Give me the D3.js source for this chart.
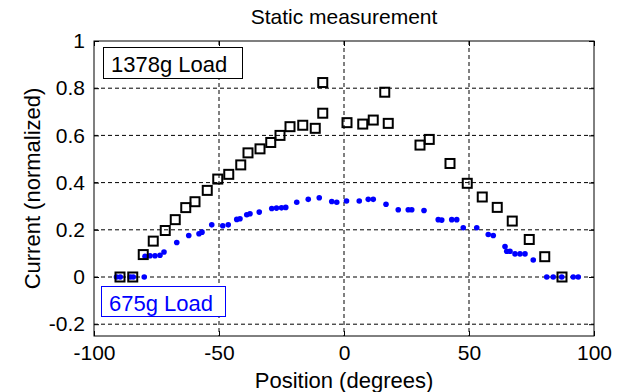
<!DOCTYPE html>
<html>
<head>
<meta charset="utf-8">
<script src="https://cdn.jsdelivr.net/npm/d3@7"></script>
<style>
  body { margin: 0; background: #fff; }
  svg { display: block; font-family: "Liberation Sans", Arial, sans-serif; }
</style>
</head>
<body>
<div class="chart"></div>
<script>
// 1378g load (squares)
var heavyX = [-89.6, -84.5, -80.3, -76.3, -71.5, -67.5, -63.3, -59.6, -54.7, -50.5, -46.1, -41.3, -38.4, -33.6, -29.3, -25.6, -21.6, -16.5, -11.5, -8.5, -8.5, 1.2, 7.5, 11.7, 16.3, 17.7, 30.4, 34.1, 42.4, 49.3, 55.3, 61.3, 67.3, 74.1, 80.3, 87.2];
var heavyY = [0, 0, 0.095, 0.152, 0.197, 0.243, 0.294, 0.319, 0.367, 0.415, 0.435, 0.475, 0.526, 0.543, 0.570, 0.600, 0.637, 0.643, 0.630, 0.694, 0.824, 0.654, 0.648, 0.665, 0.783, 0.651, 0.559, 0.583, 0.481, 0.397, 0.339, 0.295, 0.237, 0.159, 0.086, 0];

// 675g load (blue dots)
var lightX = [-91, -89.5, -85.5, -84.3, -79.9, -79.6, -77.6, -75.6, -73.6, -72, -66.9, -62.1, -58, -56.8, -52.9, -48.5, -46.3, -42.9, -41.6, -38.9, -37.6, -33.9, -28.9, -27, -25, -23.3, -18.9, -14.3, -9.9, -4.9, -2.9, 1.0, 6.1, 9.7, 11.7, 16.8, 21.7, 25.7, 27.1, 32, 37.7, 39.1, 43.1, 45.1, 47.7, 53.1, 57.7, 59.7, 64.4, 65.1, 66.4, 68.4, 70.4, 72.4, 75.7, 81.1, 83.7, 87.1, 91.7, 93.7];
var lightY = [0, 0, 0, 0, 0, 0.088, 0.09, 0.09, 0.092, 0.106, 0.146, 0.176, 0.183, 0.19, 0.221, 0.217, 0.221, 0.244, 0.247, 0.264, 0.268, 0.275, 0.29, 0.292, 0.293, 0.295, 0.317, 0.329, 0.336, 0.32, 0.317, 0.322, 0.322, 0.329, 0.329, 0.308, 0.285, 0.285, 0.285, 0.282, 0.243, 0.241, 0.243, 0.243, 0.209, 0.209, 0.18, 0.176, 0.129, 0.109, 0.109, 0.098, 0.098, 0.098, 0.072, 0, 0, 0, 0, 0];

var xTicks = [-100, -50, 0, 50, 100];
var yTicks = [-0.2, 0, 0.2, 0.4, 0.6, 0.8, 1];

var W = 621, H = 392;
var mLeft = 94, mRight = 594, mTop = 41, mBottom = 336;

var svg = d3.select('.chart')
    .append("svg")
    .attr("width", W)
    .attr("height", H);

var x = d3.scaleLinear().domain([-100, 100]).range([mLeft, mRight]);
var y = d3.scaleLinear().domain([-0.25, 1]).range([mBottom, mTop]);

// plain hyphen minus like matlab
var fmt = function (d) { return String(+d.toFixed(1)); };

// grid
svg.append("g")
    .selectAll("line")
    .data(xTicks.slice(1, -1))
    .enter().append("line")
    .attr("x1", function (d) { return x(d); })
    .attr("x2", function (d) { return x(d); })
    .attr("y1", mTop).attr("y2", mBottom)
    .attr("stroke", "#000").attr("stroke-width", 1)
    .attr("stroke-dasharray", "4,3");

svg.append("g")
    .selectAll("line")
    .data(yTicks.filter(function (d) { return d < 1; }))
    .enter().append("line")
    .attr("y1", function (d) { return y(d); })
    .attr("y2", function (d) { return y(d); })
    .attr("x1", mLeft).attr("x2", mRight)
    .attr("stroke", "#000").attr("stroke-width", 1)
    .attr("stroke-dasharray", "4,3");

// axes (ticks inward, matlab style)
svg.append("g")
    .attr("transform", "translate(0," + mBottom + ")")
    .call(d3.axisBottom(x).tickValues(xTicks).tickSizeInner(-5).tickSizeOuter(0).tickPadding(9).tickFormat(fmt))
    .call(function (g) { g.select(".domain").remove(); });

svg.append("g")
    .attr("transform", "translate(0," + mTop + ")")
    .call(d3.axisTop(x).tickValues(xTicks).tickSizeInner(-5).tickSizeOuter(0).tickFormat(""))
    .call(function (g) { g.select(".domain").remove(); });

svg.append("g")
    .attr("transform", "translate(" + mLeft + ",0)")
    .call(d3.axisLeft(y).tickValues(yTicks).tickSizeInner(-5).tickSizeOuter(0).tickPadding(9).tickFormat(fmt))
    .call(function (g) { g.select(".domain").remove(); });

svg.append("g")
    .attr("transform", "translate(" + mRight + ",0)")
    .call(d3.axisRight(y).tickValues(yTicks).tickSizeInner(-5).tickSizeOuter(0).tickFormat(""))
    .call(function (g) { g.select(".domain").remove(); });

svg.selectAll(".tick text")
    .attr("fill", "#000")
    .style("font-size", "21px")
    .style("font-family", "Liberation Sans, Arial, sans-serif");
svg.selectAll(".tick line").attr("stroke", "#000");

// frame
svg.append("rect")
    .attr("x", mLeft).attr("y", mTop)
    .attr("width", mRight - mLeft).attr("height", mBottom - mTop)
    .attr("fill", "none").attr("stroke", "#000").attr("stroke-width", 1);

// blue dots
svg.append("g")
    .selectAll("circle")
    .data(lightX)
    .enter().append("circle")
    .attr("cx", function (d) { return x(d); })
    .attr("cy", function (d, i) { return y(lightY[i]); })
    .attr("r", 2.8)
    .attr("fill", "#0000ff");

// squares
svg.append("g")
    .selectAll("rect")
    .data(heavyX)
    .enter().append("rect")
    .attr("x", function (d) { return x(d) - 4.5; })
    .attr("y", function (d, i) { return y(heavyY[i]) - 4.5; })
    .attr("width", 9).attr("height", 9)
    .attr("fill", "none")
    .attr("stroke", "#000")
    .attr("stroke-width", 2);

// legend boxes
svg.append("rect")
    .attr("x", 103.5).attr("y", 47.5).attr("width", 139).attr("height", 31)
    .attr("fill", "#fff").attr("stroke", "#000").attr("stroke-width", 1);
svg.append("text")
    .attr("x", 111).attr("y", 72)
    .style("font-size", "22px")
    .text("1378g Load");

svg.append("rect")
    .attr("x", 101.5).attr("y", 286.5).attr("width", 124).attr("height", 30)
    .attr("fill", "#fff").attr("stroke", "#0000ff").attr("stroke-width", 1);
svg.append("text")
    .attr("x", 109).attr("y", 311)
    .attr("fill", "#0000ff")
    .style("font-size", "22px")
    .text("675g Load");

// titles
svg.append("text")
    .attr("x", (mLeft + mRight) / 2).attr("y", 24)
    .attr("text-anchor", "middle")
    .style("font-size", "21px")
    .text("Static measurement");

svg.append("text")
    .attr("x", (mLeft + mRight) / 2).attr("y", 388)
    .attr("text-anchor", "middle")
    .style("font-size", "22px")
    .text("Position (degrees)");

svg.append("text")
    .attr("transform", "translate(40," + ((mTop + mBottom) / 2) + ") rotate(-90)")
    .attr("text-anchor", "middle")
    .style("font-size", "22px")
    .text("Current (normalized)");
</script>
</body>
</html>
